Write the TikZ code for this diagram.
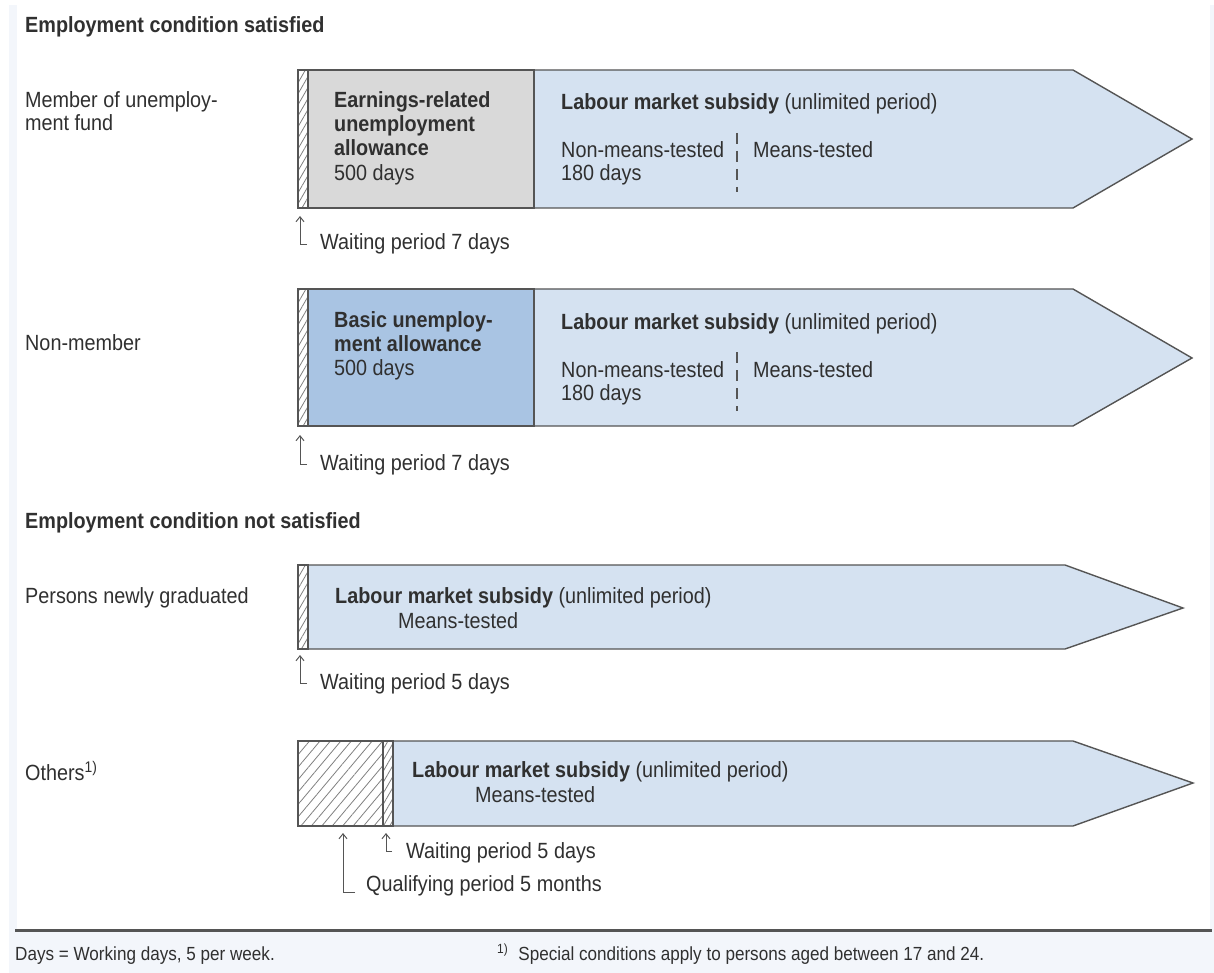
\documentclass[tikz,border=0pt]{standalone}
\usepackage{fontspec}
\setmainfont{Liberation Sans}[FakeStretch=0.9]
\usetikzlibrary{patterns.meta,arrows.meta}
\definecolor{lb}{HTML}{D5E2F1}
\definecolor{mb}{HTML}{A9C4E3}
\definecolor{gb}{HTML}{D9D9D9}
\definecolor{bd}{HTML}{555555}
\definecolor{tx}{HTML}{303030}
\definecolor{bgc}{HTML}{F3F6FB}
\begin{document}
\begin{tikzpicture}[x=1pt,y=-1pt,
  t/.style={font=\fontsize{22}{24}\selectfont, text=tx, inner sep=0pt, anchor=base west},
  tb/.style={font=\fontsize{22}{24}\selectfont\bfseries, text=tx, inner sep=0pt, anchor=base west},
  tf/.style={font=\fontsize{19}{21}\selectfont, text=tx, inner sep=0pt, anchor=base west},
  shp/.style={draw=bd, line width=1.4pt, line join=miter},
  hatch/.style={pattern={Lines[angle=60,distance=5.5pt,line width=0.8pt]}, pattern color=gray},
  bighatch/.style={pattern={Lines[angle=50,distance=8pt,line width=0.8pt]}, pattern color=gray},
  wa/.style={draw=bd, line width=1pt, -{Straight Barb[length=5pt,width=8pt]}},
  dl/.style={draw=bd, line width=1.2pt, dash pattern=on 11pt off 7pt}]
\useasboundingbox (0,0) rectangle (1214,973);
% background frame
\fill[bgc] (9,5) rectangle (1214,973);
\fill[white] (17,5) rectangle (1210,929);
\draw[bd, line width=3pt] (15,930) -- (1212,930);

% headings
\node[tb] (h1) at (25,33) {Employment condition satisfied};
\node[tb] (h2) at (25,528) {Employment condition not satisfied};

% ---------- Row 1 ----------
\path[shp, fill=lb] (534,70) -- (1073,70) -- (1192,139) -- (1073,208) -- (534,208) -- cycle;
\path[shp, fill=gb] (308,70) rectangle (534,208);
\path[shp, hatch] (298,70) rectangle (308,208);
\node[t] (l1a) at (25,108) {Member of unemploy-};
\node[t] (l1b) at (25,131) {ment fund};
\node[tb] (e1a) at (334,108) {Earnings-related};
\node[tb] (e1b) at (334,132) {unemployment};
\node[tb] (e1c) at (334,156) {allowance};
\node[t] (e1d) at (334,181) {500 days};
\node[t] (s1) at (561,110) {\bfseries Labour market subsidy\mdseries{} (unlimited period)};
\node[t] (n1a) at (561,158) {Non-means-tested};
\node[t] (n1b) at (561,181) {180 days};
\node[t] (m1) at (753,158) {Means-tested};
\coordinate (d1a) at (737,133); \coordinate (d1b) at (737,192);
\draw[dl] (d1a) -- (d1b);
\node[t] (w1) at (320,250) {Waiting period 7 days};
\coordinate (w1e) at (307,245); \coordinate (w1k) at (300,245); \coordinate (w1p) at (300,216);
\draw[wa] (w1e) -- (w1k) -- (w1p);

% ---------- Row 2 ----------
\path[shp, fill=lb] (534,289) -- (1073,289) -- (1192,358) -- (1073,426) -- (534,426) -- cycle;
\path[shp, fill=mb] (308,289) rectangle (534,426);
\path[shp, hatch] (298,289) rectangle (308,426);
\node[t] (l2) at (25,350) {Non-member};
\node[tb] (b2a) at (334,327) {Basic unemploy-};
\node[tb] (b2b) at (334,351) {ment allowance};
\node[t] (b2c) at (334,375) {500 days};
\node[t] (s2) at (561,329) {\bfseries Labour market subsidy\mdseries{} (unlimited period)};
\node[t] (n2a) at (561,377) {Non-means-tested};
\node[t] (n2b) at (561,400) {180 days};
\node[t] (m2) at (753,377) {Means-tested};
\coordinate (d2a) at (737,352); \coordinate (d2b) at (737,411);
\draw[dl] (d2a) -- (d2b);
\node[t] (w2) at (320,470) {Waiting period 7 days};
\coordinate (w2e) at (307,464); \coordinate (w2k) at (300,464); \coordinate (w2p) at (300,435);
\draw[wa] (w2e) -- (w2k) -- (w2p);

% ---------- Row 3 ----------
\path[shp, fill=lb] (308,565) -- (1065,565) -- (1183,608) -- (1065,649) -- (308,649) -- cycle;
\path[shp, hatch] (298,565) rectangle (308,649);
\node[t] (l3) at (25,603) {Persons newly graduated};
\node[t] (s3) at (335,603) {\bfseries Labour market subsidy\mdseries{} (unlimited period)};
\node[t] (m3) at (398,628) {Means-tested};
\node[t] (w3) at (320,689) {Waiting period 5 days};
\coordinate (w3e) at (307,683); \coordinate (w3k) at (300,683); \coordinate (w3p) at (300,655);
\draw[wa] (w3e) -- (w3k) -- (w3p);

% ---------- Row 4 ----------
\path[shp, fill=lb] (393,741) -- (1073,741) -- (1193,783) -- (1073,826) -- (393,826) -- cycle;
\path[shp, bighatch] (298,741) rectangle (383,826);
\path[shp, hatch] (383,741) rectangle (393,826);
\node[t] (l4) at (25,780) {Others\textsuperscript{1)}};
\node[t] (s4) at (412,777) {\bfseries Labour market subsidy\mdseries{} (unlimited period)};
\node[t] (m4) at (475,802) {Means-tested};
\node[t] (w4) at (406,858) {Waiting period 5 days};
\coordinate (w4e) at (392,851); \coordinate (w4k) at (386,851); \coordinate (w4p) at (386,833);
\draw[wa] (w4e) -- (w4k) -- (w4p);
\node[t] (q4) at (366,891) {Qualifying period 5 months};
\coordinate (q4e) at (355,892); \coordinate (q4k) at (343,892); \coordinate (q4p) at (343,833);
\draw[wa] (q4e) -- (q4k) -- (q4p);

% ---------- Footer ----------
\node[tf] (f1) at (15,960) {Days = Working days, 5 per week.};
\node[tf] (f2) at (497,960) {\textsuperscript{1)}\hspace{10pt}Special conditions apply to persons aged between 17 and 24.};
\end{tikzpicture}
\end{document}
